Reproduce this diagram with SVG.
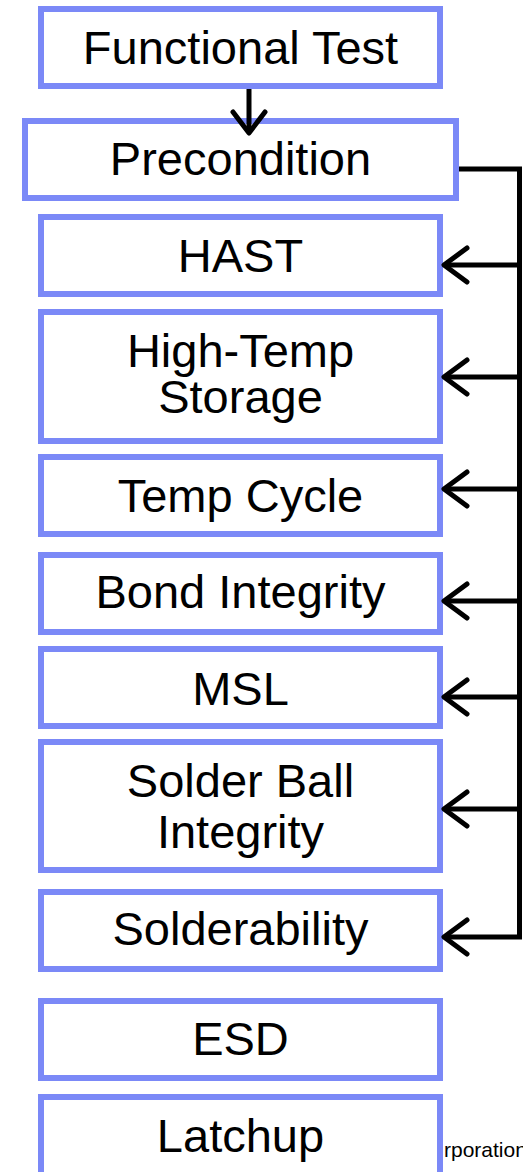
<svg xmlns="http://www.w3.org/2000/svg" width="523" height="1172" viewBox="0 0 523 1172">
  <defs>
    <style>
      .box { fill: #ffffff; stroke: #7b89f7; stroke-width: 6; }
      .lbl { font-family: "Liberation Sans", Arial, sans-serif; font-size: 47px; fill: #000000; text-anchor: middle; }
      .wire { fill: none; stroke: #000000; stroke-width: 5; }
      .head { fill: none; stroke: #000000; stroke-width: 5; stroke-linecap: round; stroke-linejoin: round; }
      .note { font-family: "Liberation Sans", Arial, sans-serif; font-size: 21px; fill: #000000; }
    </style>
  </defs>
  <rect width="523" height="1172" fill="#ffffff"/>

  <!-- footer text, partly hidden behind the last box -->
  <text class="note" x="444" y="1157">rporation</text>

  <g id="functional-test">
    <rect class="box" x="41" y="9" width="399" height="77"/>
    <text class="lbl" x="240.5" y="64">Functional Test</text>
  </g>
  <g id="precondition">
    <rect class="box" x="25" y="121" width="431" height="77"/>
    <text class="lbl" x="240.5" y="175">Precondition</text>
  </g>
  <g id="hast">
    <rect class="box" x="41" y="217" width="399" height="77"/>
    <text class="lbl" x="240.5" y="272">HAST</text>
  </g>
  <g id="high-temp-storage">
    <rect class="box" x="41" y="312" width="399" height="129"/>
    <text class="lbl" x="240.5" y="367">High-Temp</text>
    <text class="lbl" x="240.5" y="413">Storage</text>
  </g>
  <g id="temp-cycle">
    <rect class="box" x="41" y="457" width="399" height="77"/>
    <text class="lbl" x="240.5" y="512">Temp Cycle</text>
  </g>
  <g id="bond-integrity">
    <rect class="box" x="41" y="555" width="399" height="77"/>
    <text class="lbl" x="240.5" y="608">Bond Integrity</text>
  </g>
  <g id="msl">
    <rect class="box" x="41" y="649" width="399" height="77"/>
    <text class="lbl" x="240.5" y="705">MSL</text>
  </g>
  <g id="solder-ball-integrity">
    <rect class="box" x="41" y="742" width="399" height="128"/>
    <text class="lbl" x="240.5" y="797">Solder Ball</text>
    <text class="lbl" x="240.5" y="848">Integrity</text>
  </g>
  <g id="solderability">
    <rect class="box" x="41" y="892" width="399" height="77"/>
    <text class="lbl" x="240.5" y="945">Solderability</text>
  </g>
  <g id="esd">
    <rect class="box" x="41" y="1001" width="399" height="77"/>
    <text class="lbl" x="240.5" y="1055">ESD</text>
  </g>
  <g id="latchup">
    <rect class="box" x="41" y="1097" width="399" height="90"/>
    <text class="lbl" x="240.5" y="1152">Latchup</text>
  </g>

  <g id="connectors">
    <!-- Functional Test to Precondition -->
    <line class="wire" x1="249" y1="89" x2="249" y2="132"/>
    <polyline class="head" points="233,112 249,133 265,112"/>

    <!-- Precondition feeds the stress tests -->
    <polyline class="wire" points="459,169 519.5,169 519.5,937"/>
    <line class="wire" x1="445" y1="265" x2="519.5" y2="265"/>
    <polyline class="head" points="467,248 444,265 467,282"/>
    <line class="wire" x1="445" y1="377" x2="519.5" y2="377"/>
    <polyline class="head" points="467,360 444,377 467,394"/>
    <line class="wire" x1="445" y1="489" x2="519.5" y2="489"/>
    <polyline class="head" points="467,472 444,489 467,506"/>
    <line class="wire" x1="445" y1="601" x2="519.5" y2="601"/>
    <polyline class="head" points="467,584 444,601 467,618"/>
    <line class="wire" x1="445" y1="697" x2="519.5" y2="697"/>
    <polyline class="head" points="467,680 444,697 467,714"/>
    <line class="wire" x1="445" y1="809" x2="519.5" y2="809"/>
    <polyline class="head" points="467,792 444,809 467,826"/>
    <line class="wire" x1="445" y1="937" x2="522" y2="937"/>
    <polyline class="head" points="467,920 444,937 467,954"/>
  </g>
</svg>
